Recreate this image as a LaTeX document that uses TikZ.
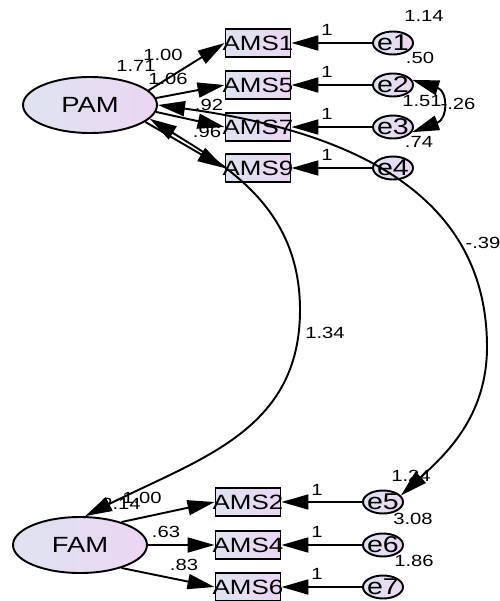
\documentclass[tikz,border=0pt]{standalone}
\usepackage{fontspec}
\setmainfont{Liberation Sans}[FakeStretch=1.25]
\usetikzlibrary{shapes.geometric,arrows.meta}
\definecolor{gl}{RGB}{222,227,240}
\definecolor{gr}{RGB}{236,214,243}
\newcommand{\obsfont}{\fontsize{11.8pt}{13pt}\selectfont}
\newcommand{\latfont}{\fontsize{12.5pt}{14pt}\selectfont}
\newcommand{\errfont}{\fontsize{13pt}{15pt}\selectfont}
\newcommand{\numfont}{\fontsize{9.2pt}{11pt}\selectfont}
\tikzset{
  obs/.style={rectangle, draw, line width=1.1pt, minimum width=13mm, minimum height=5.5mm, inner sep=0pt, left color=gl, right color=gr, font=\obsfont},
  lat/.style={ellipse, draw, line width=1.1pt, minimum width=26.8mm, minimum height=11.2mm, inner sep=0pt, left color=gl, right color=gr, font=\latfont},
  err/.style={ellipse, draw, line width=1.1pt, minimum width=8mm, minimum height=4.6mm, inner sep=0pt, left color=gl, right color=gr, font=\errfont},
  num/.style={inner sep=0pt, font=\numfont},
  reg/.style={-{Triangle[length=5.4mm,width=3mm]}, line width=1.1pt},
  cov/.style={{Triangle[length=5.4mm,width=3mm]}-{Triangle[length=5.4mm,width=3mm]}, line width=1.1pt}
}
\begin{document}
\begin{tikzpicture}[x=0.2mm,y=-0.2mm]
\useasboundingbox (0,0) rectangle (500,601);
% latent variables
\node[lat] (PAM) at (90,105) {PAM};
\node[lat] (FAM) at (80,545) {FAM};
% observed
\node[obs] (AMS1) at (258,43) {\makebox[0pt]{AMS1}};
\node[obs] (AMS5) at (258,85) {\makebox[0pt]{AMS5}};
\node[obs] (AMS7) at (258,127) {\makebox[0pt]{AMS7}};
\node[obs] (AMS9) at (258,168) {\makebox[0pt]{AMS9}};
\node[obs] (AMS2) at (248,502) {\makebox[0pt]{AMS2}};
\node[obs] (AMS4) at (248,545) {\makebox[0pt]{AMS4}};
\node[obs] (AMS6) at (248,587) {\makebox[0pt]{AMS6}};
% errors
\node[err] (e1) at (393,43) {\makebox[0pt]{e1}};
\node[err] (e2) at (393,85) {\makebox[0pt]{e2}};
\node[err] (e3) at (393,127) {\makebox[0pt]{e3}};
\node[err] (e4) at (393,168) {\makebox[0pt]{e4}};
\node[err] (e5) at (383,502) {\makebox[0pt]{e5}};
\node[err] (e6) at (383,545) {\makebox[0pt]{e6}};
\node[err] (e7) at (383,587) {\makebox[0pt]{e7}};
% regression paths
\draw[reg] (PAM.14) -- (AMS1.west);
\draw[reg] (PAM.6) -- (AMS5.west);
\draw[reg] (PAM.-6) -- (AMS7.west);
\draw[reg] (PAM.-17) -- (AMS9.west);
\draw[reg] (FAM.29) -- (AMS2.west);
\draw[reg] (FAM.east) -- (AMS4.west);
\draw[reg] (FAM.-29) -- (AMS6.west);
\draw[reg] (e1.west) -- (AMS1.east);
\draw[reg] (e2.west) -- (AMS5.east);
\draw[reg] (e3.west) -- (AMS7.east);
\draw[reg] (e4.west) -- (AMS9.east);
\draw[reg] (e5.west) -- (AMS2.east);
\draw[reg] (e6.west) -- (AMS4.east);
\draw[reg] (e7.west) -- (AMS6.east);
% covariances
\draw[cov] (PAM.0) .. controls (357,132) and (487,197) .. (487,347) .. controls (487,417) and (445,455) .. (e5.20);
\draw[cov] (PAM.-13) .. controls (230,168) and (300,210) .. (300,310) .. controls (300,430) and (201,458) .. (FAM.80);
\draw[cov] (e2.15) .. controls (448,91) and (448,119) .. (e3.-15);
% labels
\node[num] (n171) at (136,66) {1.71};
\node[num] (n100a) at (163,55) {1.00};
\node[num] (n106) at (168,79) {1.06};
\node[num] (n92) at (209,105) {.92};
\node[num] (n96) at (207,132) {.96};
\node[num] (n1a) at (327,30) {1};
\node[num] (n1b) at (327,72) {1};
\node[num] (n1c) at (327,114) {1};
\node[num] (n1d) at (327,155) {1};
\node[num] (n114) at (424,16) {1.14};
\node[num] (n50) at (420,58) {.50};
\node[num] (n151) at (422,101) {1.51};
\node[num] (n26) at (458,104) {-.26};
\node[num] (n74) at (419,142) {.74};
\node[num] (n39) at (483,243) {-.39};
\node[num] (n134) at (325,333) {1.34};
\node[num] (n124) at (411,476) {1.24};
\node[num] (n308) at (413,519) {3.08};
\node[num] (n186) at (414,561) {1.86};
\node[num] (n214) at (121,504) {2.14};
\node[num] (n100b) at (142,498) {1.00};
\node[num] (n63) at (166,532) {.63};
\node[num] (n83) at (184,565) {.83};
\node[num] (n1e) at (317,490) {1};
\node[num] (n1f) at (317,532) {1};
\node[num] (n1g) at (317,574) {1};
\end{tikzpicture}
\end{document}
